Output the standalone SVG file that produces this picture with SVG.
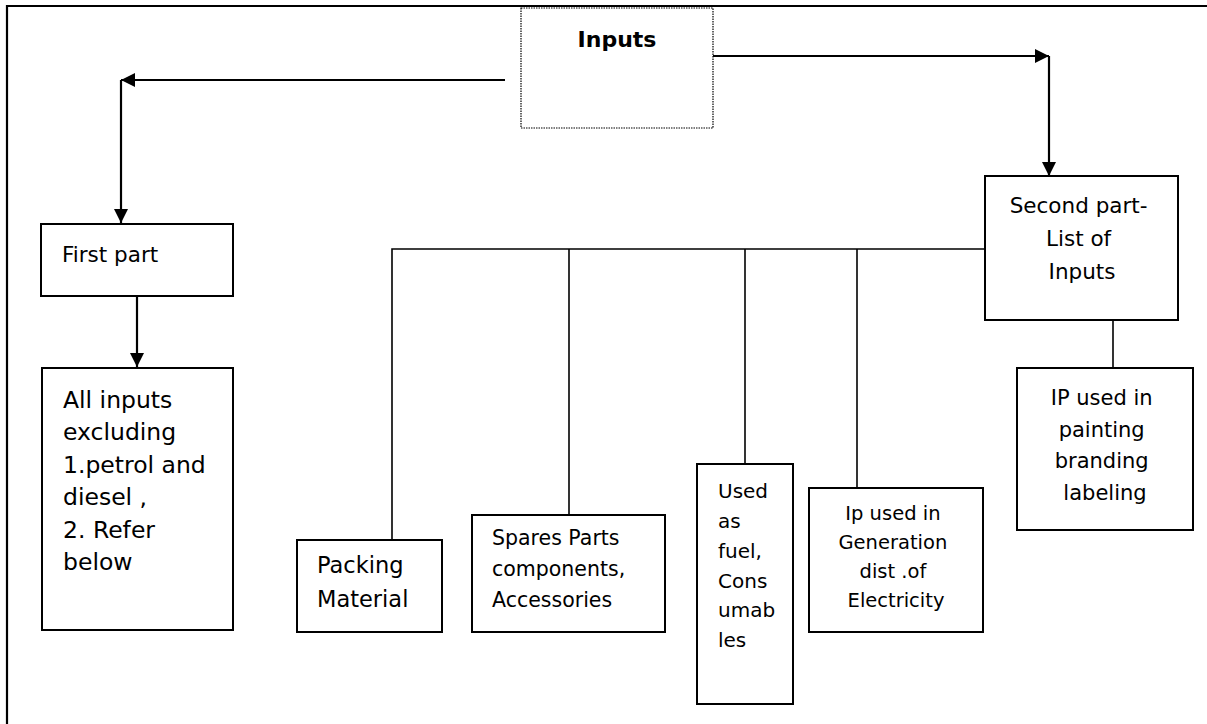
<svg xmlns="http://www.w3.org/2000/svg" width="1207" height="724" viewBox="0 0 1207 724">
  <defs>
    <marker id="arrow" viewBox="0 0 10 10" refX="10" refY="5" markerWidth="14" markerHeight="14" markerUnits="userSpaceOnUse" orient="auto">
      <path d="M0,0 L10,5 L0,10 z" fill="#000"/>
    </marker>
    <style>
      text { font-family: "DejaVu Sans", "Noto Sans", sans-serif; fill: #000; }
      .box { fill: #fff; stroke: #000; stroke-width: 2; }
      .dotted { fill: #fff; stroke: #000; stroke-width: 1.2; stroke-dasharray: 1.5 1; }
      .flow { fill: none; stroke: #000; stroke-width: 2.2; }
      .tie { fill: none; stroke: #000; stroke-width: 1.6; }
      .frame { fill: none; stroke: #000; stroke-width: 2.2; }
    </style>
  </defs>

  <rect width="1207" height="724" fill="#fff"/>

  <!-- page frame -->
  <path class="frame" d="M7,724 V6 H1207"/>

  <!-- connectors -->
  <g id="connectors">
    <path class="flow" d="M505,80 H121" marker-end="url(#arrow)"/>
    <path class="flow" d="M121,80 V223" marker-end="url(#arrow)"/>
    <path class="flow" d="M137,296 V367" marker-end="url(#arrow)"/>
    <path class="flow" d="M713,56 H1049" marker-end="url(#arrow)"/>
    <path class="flow" d="M1049,56 V176" marker-end="url(#arrow)"/>
    <path class="tie" d="M985,249 H392 V540"/>
    <path class="tie" d="M569,249 V515"/>
    <path class="tie" d="M745,249 V464"/>
    <path class="tie" d="M857,249 V488"/>
    <path class="tie" d="M1113,320 V368"/>
  </g>

  <g id="inputs">
    <rect class="dotted" x="521" y="8" width="192" height="120"/>
    <text x="617" y="47" font-size="22" font-weight="bold" text-anchor="middle">Inputs</text>
  </g>

  <g id="first-part">
    <rect class="box" x="41" y="224" width="192" height="72"/>
    <text x="62" y="262" font-size="21.5">First part</text>
  </g>

  <g id="all-inputs">
    <rect class="box" x="42" y="368" width="191" height="262"/>
    <text font-size="23.5">
      <tspan x="63" y="408">All inputs</tspan>
      <tspan x="63" y="440">excluding</tspan>
      <tspan x="63" y="473">1.petrol and</tspan>
      <tspan x="63" y="505">diesel ,</tspan>
      <tspan x="63" y="538">2. Refer</tspan>
      <tspan x="63" y="570">below</tspan>
    </text>
  </g>

  <g id="second-part">
    <rect class="box" x="985" y="176" width="193" height="144"/>
    <text font-size="21.5" text-anchor="middle">
      <tspan x="1082" y="213">Second part-</tspan>
      <tspan x="1082" y="246">List of</tspan>
      <tspan x="1082" y="279">Inputs</tspan>
    </text>
  </g>

  <g id="packing">
    <rect class="box" x="297" y="540" width="145" height="92"/>
    <text font-size="22.5">
      <tspan x="317" y="573">Packing</tspan>
      <tspan x="317" y="607">Material</tspan>
    </text>
  </g>

  <g id="spares">
    <rect class="box" x="472" y="515" width="193" height="117"/>
    <text font-size="20.5">
      <tspan x="492" y="545">Spares Parts</tspan>
      <tspan x="492" y="576">components,</tspan>
      <tspan x="492" y="607">Accessories</tspan>
    </text>
  </g>

  <g id="fuel">
    <rect class="box" x="697" y="464" width="96" height="240"/>
    <text font-size="20">
      <tspan x="718" y="498">Used</tspan>
      <tspan x="718" y="528">as</tspan>
      <tspan x="718" y="558">fuel,</tspan>
      <tspan x="718" y="588">Cons</tspan>
      <tspan x="718" y="617">umab</tspan>
      <tspan x="718" y="647">les</tspan>
    </text>
  </g>

  <g id="electricity">
    <rect class="box" x="809" y="488" width="174" height="144"/>
    <text font-size="19.5" text-anchor="middle">
      <tspan x="896" y="520">Ip used in</tspan>
      <tspan x="896" y="549">Generation</tspan>
      <tspan x="896" y="578">dist .of</tspan>
      <tspan x="896" y="607">Electricity</tspan>
    </text>
  </g>

  <g id="painting">
    <rect class="box" x="1017" y="368" width="176" height="162"/>
    <text font-size="21" text-anchor="middle">
      <tspan x="1105" y="405">IP used in</tspan>
      <tspan x="1105" y="437">painting</tspan>
      <tspan x="1105" y="468">branding</tspan>
      <tspan x="1105" y="500">labeling</tspan>
    </text>
  </g>
</svg>
